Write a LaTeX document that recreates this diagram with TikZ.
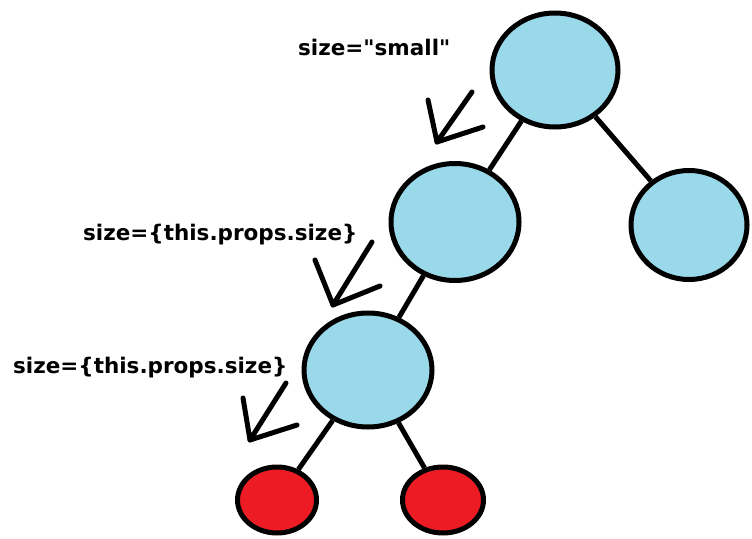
\documentclass[tikz,border=0pt]{standalone}
\usepackage{fontspec}
\setmainfont{DejaVu Sans}[Ligatures=TeXOff]
\usetikzlibrary{shapes.geometric}
\definecolor{nodeblue}{RGB}{153,217,234}
\definecolor{leafred}{RGB}{237,28,36}
\begin{document}
\begin{tikzpicture}[x=1pt,y=-1pt,
  treenode/.style={ellipse, draw=black, line width=5pt, inner sep=0pt, fill=nodeblue},
  leafnode/.style={ellipse, draw=black, line width=5pt, inner sep=0pt, fill=leafred},
  edge/.style={draw=black, line width=5pt},
  hand/.style={draw=black, line width=5pt, line cap=round, line join=round},
  proplabel/.style={anchor=base west, inner sep=0pt, font=\bfseries\fontsize{21.5}{24}\selectfont}]
\useasboundingbox (0,0) rectangle (752,538);

% tree nodes
\node[treenode, minimum width=126pt, minimum height=114pt] (root) at (555,70) {};
\node[treenode, minimum width=128pt, minimum height=117pt] (mid) at (455,222) {};
\node[treenode, minimum width=116pt, minimum height=109pt] (right) at (689,225) {};
\node[treenode, minimum width=128pt, minimum height=114pt] (low) at (368,370) {};
\node[leafnode, minimum width=79pt, minimum height=66pt] (leafL) at (277,500) {};
\node[leafnode, minimum width=81pt, minimum height=66pt] (leafR) at (443,500) {};

% connectors
\draw[edge] (root) -- (mid);
\draw[edge] (root) -- (right);
\draw[edge] (mid) -- (low);
\draw[edge] (low) -- (leafL);
\draw[edge] (low) -- (leafR);

% labels
\node[proplabel] (l1) at (298,55) {size="small"};
\node[proplabel] (l2) at (83,240) {size=\{this.props.size\}};
\node[proplabel] (l3) at (13,373) {size=\{this.props.size\}};

% hand-drawn arrows showing the prop passed down
\draw[hand] (472,92) -- (437,142) -- (428,100);
\draw[hand] (437,142) -- (483,127);
\draw[hand] (372,242) -- (333,305) -- (315,260);
\draw[hand] (333,305) -- (380,286);
\draw[hand] (286,383) -- (250,440) -- (243,398);
\draw[hand] (250,440) -- (297,425);
\end{tikzpicture}
\end{document}
